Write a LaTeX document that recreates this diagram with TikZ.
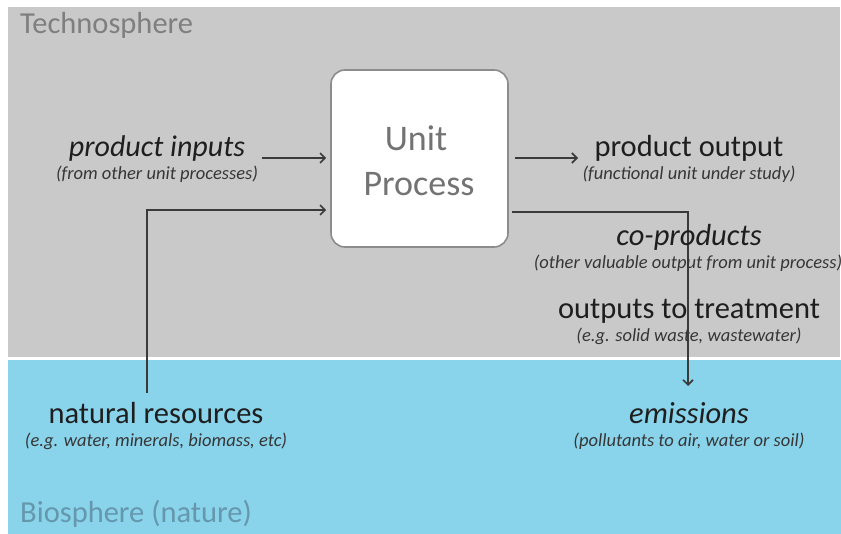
\documentclass[tikz,border=0pt]{standalone}
\usepackage{fontspec}
\setmainfont{Carlito}
\usetikzlibrary{arrows.meta}
\definecolor{techgray}{HTML}{C9C9C9}
\definecolor{bioblue}{HTML}{89D3EB}
\definecolor{techtext}{HTML}{7F7F7F}
\definecolor{biotext}{HTML}{6598AD}
\definecolor{boxtext}{HTML}{737373}
\definecolor{boxborder}{HTML}{8C8C8C}
\definecolor{lbltext}{HTML}{1E1E1E}
\definecolor{subtext}{HTML}{363636}
\definecolor{conncol}{HTML}{3A3A3A}
\newcommand\myfs[1]{\fontsize{#1}{#1}\selectfont}
\begin{document}
\begin{tikzpicture}[x=1pt,y=-1pt,
  lbl/.style={inner sep=0pt, anchor=base, text=lbltext, font=\myfs{30.5}},
  sublbl/.style={inner sep=0pt, anchor=base, text=subtext, font=\myfs{18.5}\itshape},
  region/.style={inner sep=0pt, anchor=base west, font=\myfs{30.5}},
  conn/.style={draw=conncol, line width=1.6pt},
  arr/.style={conn, -{Straight Barb[length=5pt,width=10pt]}},
  upbox/.style={draw=boxborder, fill=white, rounded corners=14pt, line width=1.6pt,
    minimum width=177pt, minimum height=177pt, inner sep=0pt},
  boxlbl/.style={inner sep=0pt, anchor=base, text=boxtext, font=\myfs{36}}]
\useasboundingbox (0,0) rectangle (841,534);
\fill[techgray] (8,7) rectangle (840,357);
\fill[bioblue] (8,360) rectangle (841,534);

\node[region, text=techtext] (tech) at (20,34) {Technosphere};
\node[region, text=biotext] (bio) at (20,522) {Biosphere (nature)};

% unit process box
\node[upbox] (up) at (419.5,158.5) {};
\node[boxlbl] (unit) at (416,151) {Unit};
\node[boxlbl] (proc) at (419,196) {Process};

% connector coordinates
\coordinate (piA) at (262,158);
\coordinate (nrA) at (147,393);
\coordinate (nrT) at (147,210);
\coordinate (poA) at (515,158);
\coordinate (poB) at (578,158);
\coordinate (cpA) at (512,212);
\coordinate (cpT) at (688,212);
\coordinate (emB) at (688,386);

% connectors (behind text)
\draw[arr] (piA) -- ([xshift=-4pt]up.west |- piA);
\draw[arr] (nrA) -- (nrT) -- ([xshift=-4pt]up.west |- nrT);
\draw[arr] (poA) -- (poB);
\draw[arr] (cpA) -- (cpT) -- (emB);

% labels
\node[lbl, font=\myfs{30}\itshape] (pi) at (157,157) {product inputs};
\node[sublbl] (pis) at (157,180) {(from other unit processes)};

\node[lbl] (po) at (689,157) {product output};
\node[sublbl] (pos) at (689,180) {(functional unit under study)};

\node[lbl, font=\myfs{30.5}\itshape] (cp) at (689,246) {co-products};
\node[sublbl] (cps) at (688,269) {(other valuable output from unit process)};

\node[lbl] (ot) at (689,319) {outputs to treatment};
\node[sublbl] (ots) at (689,342) {(e.g. solid waste, wastewater)};

\node[lbl] (nr) at (156,424) {natural resources};
\node[sublbl] (nrs) at (156,447) {(e.g. water, minerals, biomass, etc)};

\node[lbl, font=\myfs{30.5}\itshape] (em) at (689,424) {emissions};
\node[sublbl] (ems) at (689,447) {(pollutants to air, water or soil)};
\end{tikzpicture}
\end{document}
